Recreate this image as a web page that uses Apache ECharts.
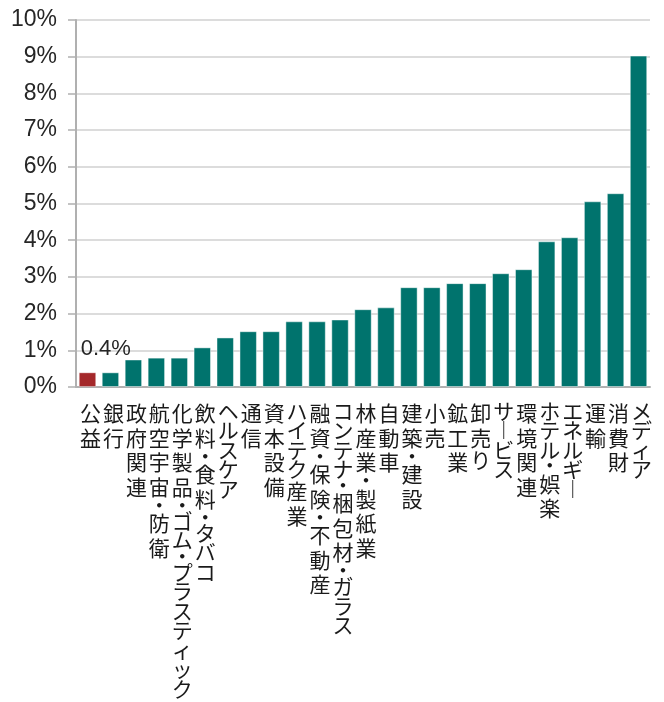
<!DOCTYPE html>
<html>
<head>
<meta charset="utf-8">
<script src="https://cdn.jsdelivr.net/npm/echarts@6/dist/echarts.min.js"></script>
<style>
html,body{margin:0;padding:0;background:#fff;}
#chart{width:664px;height:702px;}
</style>
</head>
<body>
<div id="chart"></div>
<script>
var categories = ["公益","銀行","政府関連","航空宇宙・防衛","化学製品・ゴム・プラスティック","飲料・食料・タバコ","ヘルスケア","通信","資本設備","ハイテク産業","融資・保険・不動産","コンテナ・梱包材・ガラス","林産業・製紙業","自動車","建築・建設","小売","鉱工業","卸売り","サービス","環境関連","ホテル・娯楽","エネルギー","運輸","消費財","メディア"];
var values = [0.4,0.4,0.75,0.8,0.8,1.08,1.35,1.52,1.52,1.79,1.79,1.84,2.12,2.17,2.72,2.72,2.83,2.83,3.1,3.21,3.97,4.08,5.06,5.28,9.03];
var highlightIndex = 0;
var highlightLabel = "0.4%";
var yTicks = [0,1,2,3,4,5,6,7,8,9,10];

var numFont = '"Liberation Sans",sans-serif';
var jpFont = '"Noto Sans CJK JP",sans-serif';

function vertical(s){
  var out = [];
  for (var i=0;i<s.length;i++){
    var c = s[i];
    var style;
    if (c === 'ー') { c = '︱'; style = 'h'; }
    else if (c === '・') style = 'd';
    else if (/[\u4e00-\u9fff]/.test(c)) style = 'k';
    else style = 'h';
    out.push('{' + style + '|' + c + '}');
  }
  return out.join('\n');
}

var data = values.map(function(v,i){
  var item = {value: v};
  if (i === highlightIndex) {
    item.itemStyle = {color: '#a4282a', borderColor: 'rgba(255,255,255,0.35)'};
    item.label = {show: true, formatter: highlightLabel, position: [2,-34], align: 'left', verticalAlign: 'top',
      fontFamily: numFont, fontSize: 22, color: '#262626'};
  }
  return item;
});

var chart = echarts.init(document.getElementById('chart'));
chart.setOption({
  animation: false,
  grid: {left: 76, right: 14, top: 20, bottom: 315, containLabel: false},
  xAxis: {
    type: 'category',
    data: categories,
    axisLine: {lineStyle: {color: '#b0b0b0', width: 2}},
    axisTick: {show: false},
    axisLabel: {
      interval: 0, margin: 14, verticalAlign: 'top', padding: [0,0,0,6],
      formatter: function(v){ return vertical(v); },
      rich: {
        k: {fontFamily: jpFont, fontSize: 21, lineHeight: 24.5, color: '#1a1a1a'},
        h: {fontFamily: jpFont, fontSize: 21, lineHeight: 19.5, color: '#1a1a1a'},
        d: {fontFamily: jpFont, fontSize: 21, lineHeight: 12, color: '#1a1a1a'}
      }
    }
  },
  yAxis: {
    type: 'value', min: 0, max: 10, interval: 1,
    axisLine: {show: true, lineStyle: {color: '#b0b0b0', width: 2}},
    axisTick: {show: true, length: 8, lineStyle: {color: '#b0b0b0', width: 1.5}},
    splitLine: {lineStyle: {color: '#dcdcdc', width: 2}},
    axisLabel: {
      margin: 19, fontFamily: numFont, fontSize: 23, color: '#262626',
      formatter: function(v){ return yTicks.indexOf(v) >= 0 ? v + '%' : ''; }
    }
  },
  series: [{
    type: 'bar',
    data: data,
    barCategoryGap: '24%',
    itemStyle: {color: '#00736d', borderColor: 'rgba(255,255,255,0.45)', borderWidth: 1},
    label: {show: false}
  }]
});
</script>
</body>
</html>
